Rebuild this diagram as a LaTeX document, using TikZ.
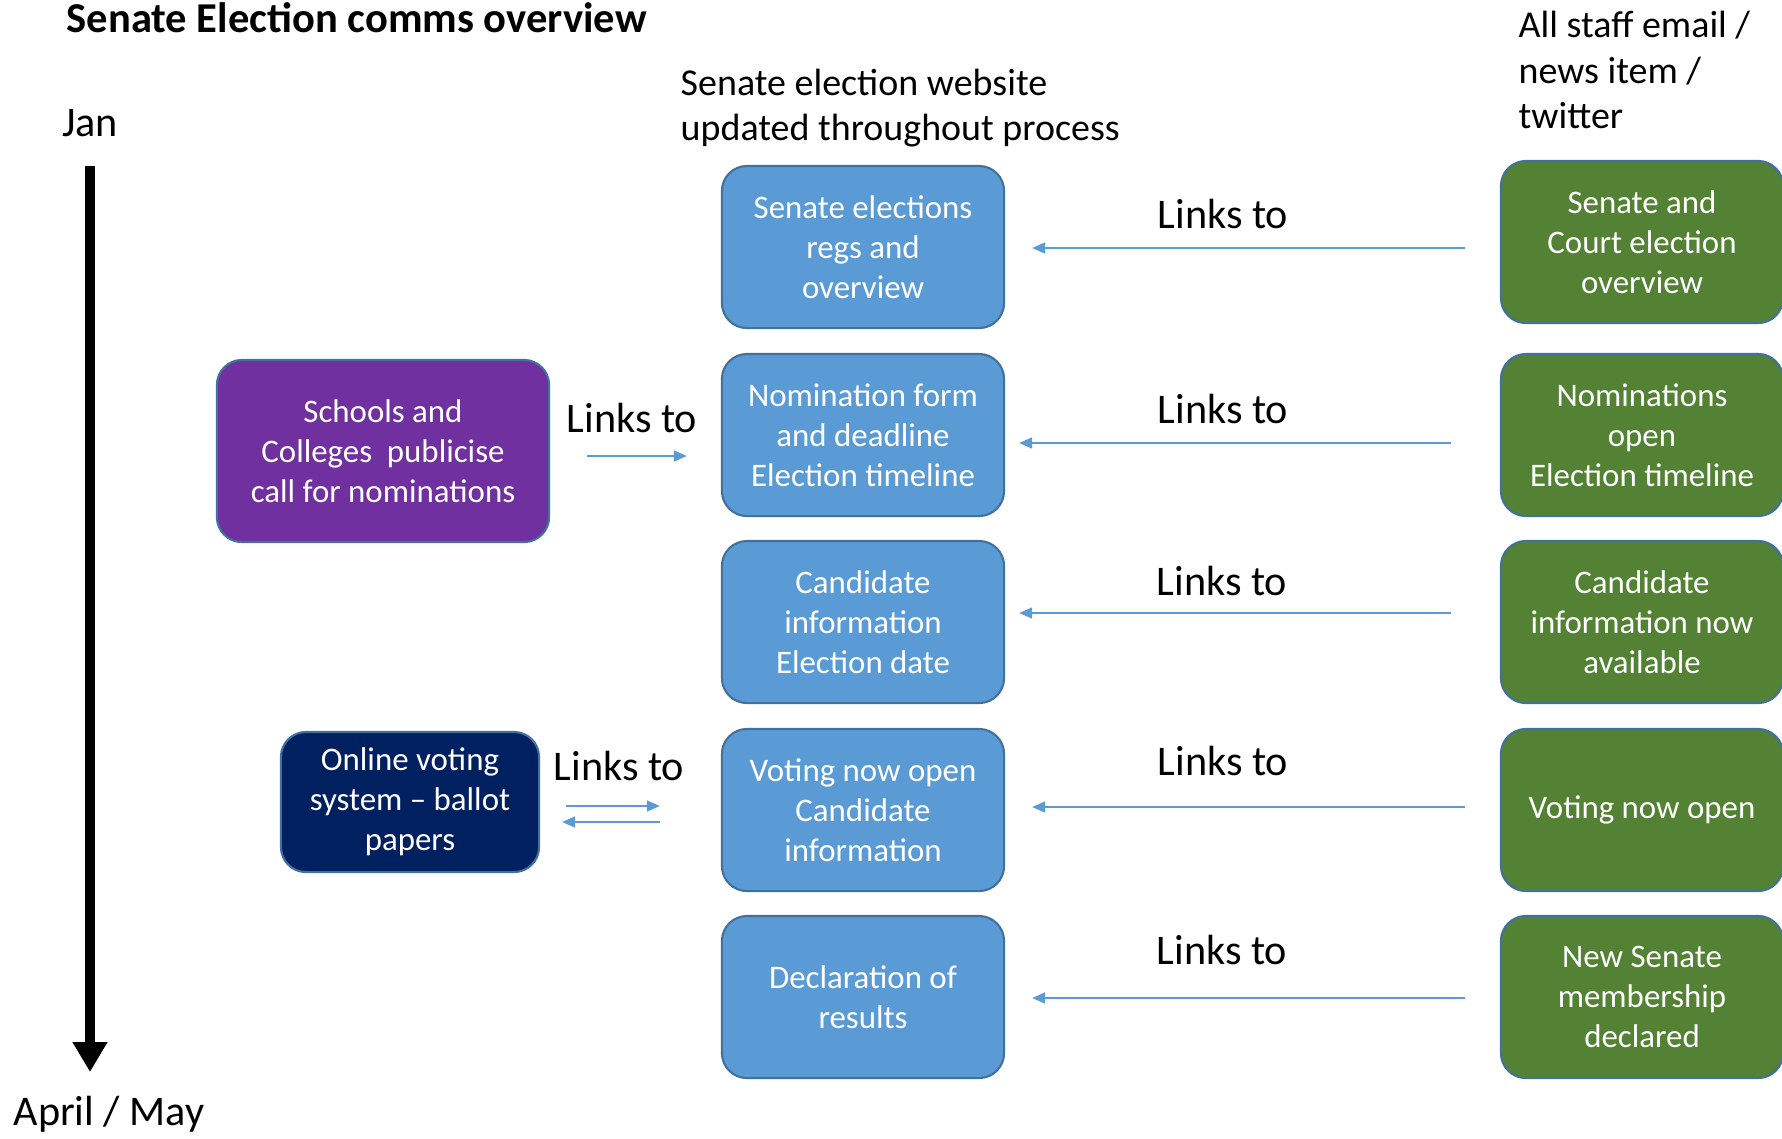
\documentclass[tikz,border=0pt]{standalone}
\usepackage{fontspec}
\setmainfont{Carlito}
\usetikzlibrary{positioning,arrows.meta}
\definecolor{webblue}{HTML}{5B9BD5}
\definecolor{edgeblue}{HTML}{41719C}
\definecolor{newsgreen}{HTML}{548235}
\definecolor{schoolpurple}{HTML}{7030A0}
\definecolor{votenavy}{HTML}{002060}

\begin{document}
\begin{tikzpicture}[x=0.01cm, y=-0.01cm,
    box/.style={draw=edgeblue, line width=0.6pt, rounded corners=0.25cm, text=white, align=center,
        minimum width=2.82cm, minimum height=1.62cm, inner sep=0pt, font=\fontsize{9.35}{11.4}\selectfont},
    webbox/.style={box, fill=webblue},
    newsbox/.style={box, fill=newsgreen},
    link/.style={webblue, line width=0.45pt, -{Triangle[length=0.13cm, width=0.11cm]}},
    linklabel/.style={font=\fontsize{12}{14}\selectfont},
    heading/.style={font=\fontsize{10.8}{13}\selectfont, align=left, anchor=west, inner sep=0pt}]
    \clip (0,0) rectangle (1782,1138);

    \node[anchor=base west, inner sep=0pt, font=\bfseries\fontsize{12.1}{14}\selectfont] (title) at (66,32) {Senate Election comms overview};

    % time line down the left
    \node[linklabel] (jan) at (90,123) {Jan};
    \node[linklabel] (aprmay) at (109,1114) {April / May};
    \coordinate (tstart) at (90,166);
    \coordinate (tend) at (90,1072);
    \draw[line width=0.09cm, -{Triangle[length=0.3cm, width=0.33cm]}] (tstart) -- (tend);

    \node[heading] (webhead) at (680,108) {Senate election website\\updated throughout process};
    \node[heading] (newshead) at (1518,70) {All staff email /\\news item /\\twitter};

    \node[webbox] (b1) at (863,247) {Senate elections\\regs and\\overview};
    \node[webbox] (b2) at (863,435) {Nomination form\\and deadline\\Election timeline};
    \node[webbox] (b3) at (863,622) {Candidate\\information\\Election date};
    \node[webbox] (b4) at (863,810) {Voting now open\\Candidate\\information};
    \node[webbox] (b5) at (863,997) {Declaration of\\results};

    \node[newsbox] (g1) at (1642,242) {Senate and\\Court election\\overview};
    \node[newsbox] (g2) at (1642,435) {Nominations\\open\\Election timeline};
    \node[newsbox] (g3) at (1642,622) {Candidate\\information now\\available};
    \node[newsbox] (g4) at (1642,810) {Voting now open};
    \node[newsbox] (g5) at (1642,997) {New Senate\\membership\\declared};

    \node[box, fill=schoolpurple, minimum width=3.32cm, minimum height=1.82cm] (schools) at (383,451) {Schools and\\Colleges~ publicise\\call for nominations};
    \node[box, fill=votenavy, minimum width=2.58cm, minimum height=1.40cm] (voting) at (410,802) {Online voting\\system -- ballot\\papers};

    \node[linklabel] (lk0) at (632,418) {Links to};
    \node[linklabel] (lkv) at (619,766) {Links to};
    \node[linklabel] (lk1) at (1223,214) {Links to};
    \node[linklabel] (lk2) at (1223,409) {Links to};
    \node[linklabel] (lk3) at (1222,581) {Links to};
    \node[linklabel] (lk4) at (1223,761) {Links to};
    \node[linklabel] (lk5) at (1222,950) {Links to};

    \draw[link] ([shift={(37,5)}]schools.east) -- ([shift={(-34,21)}]b2.west);
    \draw[link] ([shift={(26,4)}]voting.east) -- ([shift={(-61,-4)}]b4.west);
    \draw[link] ([shift={(-61,12)}]b4.west) -- ([shift={(22,20)}]voting.east);

    \draw[link] ([shift={(-35,6)}]g1.west) -- ([shift={(27,1)}]b1.east);
    \draw[link] ([shift={(-49,8)}]g2.west) -- ([shift={(14,8)}]b2.east);
    \draw[link] ([shift={(-49,-9)}]g3.west) -- ([shift={(14,-9)}]b3.east);
    \draw[link] ([shift={(-35,-3)}]g4.west) -- ([shift={(27,-3)}]b4.east);
    \draw[link] ([shift={(-35,1)}]g5.west) -- ([shift={(27,1)}]b5.east);
\end{tikzpicture}
\end{document}
